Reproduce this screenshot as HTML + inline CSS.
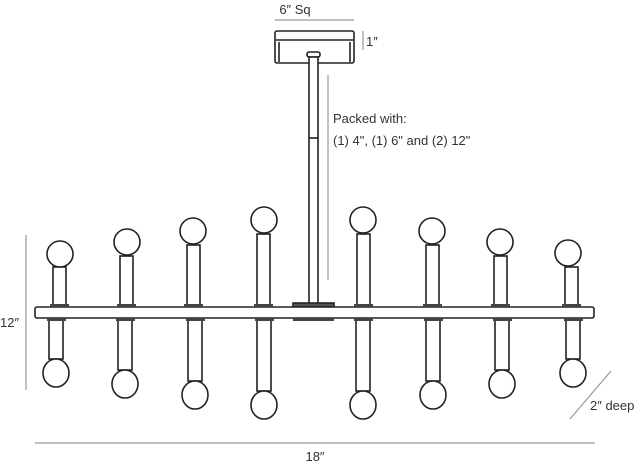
<!DOCTYPE html>
<html><head><meta charset="utf-8"><style>
html,body{margin:0;padding:0;background:#fff;width:640px;height:464px;overflow:hidden}
svg{display:block}
text{font-family:"Liberation Sans",sans-serif;fill:#333}
</style></head><body>
<svg width="640" height="464" viewBox="0 0 640 464" xmlns="http://www.w3.org/2000/svg">
<g stroke="#999" stroke-width="1.2" fill="none">
<line x1="275" y1="20" x2="354" y2="20"/>
<line x1="363" y1="31" x2="363" y2="50"/>
<line x1="328" y1="75" x2="328" y2="280"/>
<line x1="26" y1="235" x2="26" y2="390"/>
<line x1="35" y1="443" x2="595" y2="443"/>
<line x1="570" y1="419" x2="611" y2="371"/>
</g>
<text x="295" y="14" font-size="13" text-anchor="middle">6″ Sq</text>
<text x="366" y="46" font-size="13">1″</text>
<text x="333" y="123" font-size="13">Packed with:</text>
<text x="333" y="145" font-size="13">(1) 4", (1) 6" and (2) 12"</text>
<text x="0" y="327" font-size="13">12″</text>
<text x="315" y="461" font-size="13" text-anchor="middle">18″</text>
<text x="590" y="410" font-size="13">2″ deep</text>
<g stroke="#222" stroke-width="1.6" fill="#fff">
<!-- canopy -->
<rect x="275" y="31" width="79" height="32" rx="2"/>
<line x1="276" y1="40" x2="353" y2="40"/>
<line x1="279" y1="42" x2="279" y2="62"/>
<line x1="350" y1="42" x2="350" y2="62"/>
<rect x="307" y="52" width="13" height="5" rx="2"/>
<!-- rod -->
<rect x="309" y="57" width="9" height="250"/>
<line x1="309" y1="138" x2="318" y2="138"/>
<rect x="293" y="303" width="41" height="4" fill="#555"/>
<!-- upper arms -->
<g id="u">
<rect x="53" y="267" width="13" height="40"/><circle cx="60" cy="254" r="13"/>
<rect x="120" y="256" width="13" height="51"/><circle cx="127" cy="242" r="13"/>
<rect x="187" y="245" width="13" height="62"/><circle cx="193" cy="231" r="13"/>
<rect x="257" y="234" width="13" height="73"/><circle cx="264" cy="220" r="13"/>
<rect x="357" y="234" width="13" height="73"/><circle cx="363" cy="220" r="13"/>
<rect x="426" y="245" width="13" height="62"/><circle cx="432" cy="231" r="13"/>
<rect x="494" y="256" width="13" height="51"/><circle cx="500" cy="242" r="13"/>
<rect x="565" y="267" width="13" height="40"/><circle cx="568" cy="253" r="13"/>
</g>
<!-- lower arms -->
<rect x="49" y="319" width="14" height="40"/><ellipse cx="56" cy="373" rx="13" ry="14"/>
<rect x="118" y="319" width="14" height="51"/><ellipse cx="125" cy="384" rx="13" ry="14"/>
<rect x="188" y="319" width="14" height="62"/><ellipse cx="195" cy="395" rx="13" ry="14"/>
<rect x="257" y="319" width="14" height="72"/><ellipse cx="264" cy="405" rx="13" ry="14"/>
<rect x="356" y="319" width="14" height="72"/><ellipse cx="363" cy="405" rx="13" ry="14"/>
<rect x="426" y="319" width="14" height="62"/><ellipse cx="433" cy="395" rx="13" ry="14"/>
<rect x="495" y="319" width="14" height="51"/><ellipse cx="502" cy="384" rx="13" ry="14"/>
<rect x="566" y="319" width="14" height="40"/><ellipse cx="573" cy="373" rx="13" ry="14"/>
<!-- bar -->
<rect x="35" y="307" width="559" height="11" rx="2"/>
</g>
<g fill="#444">
<rect x="50" y="304" width="19" height="3"/><rect x="117" y="304" width="19" height="3"/><rect x="184" y="304" width="19" height="3"/><rect x="254" y="304" width="19" height="3"/><rect x="354" y="304" width="19" height="3"/><rect x="423" y="304" width="19" height="3"/><rect x="491" y="304" width="19" height="3"/><rect x="562" y="304" width="19" height="3"/>
<rect x="47" y="318" width="19" height="3"/><rect x="116" y="318" width="19" height="3"/><rect x="186" y="318" width="19" height="3"/><rect x="255" y="318" width="19" height="3"/><rect x="293" y="318" width="41" height="3"/><rect x="354" y="318" width="19" height="3"/><rect x="424" y="318" width="19" height="3"/><rect x="493" y="318" width="19" height="3"/><rect x="564" y="318" width="19" height="3"/>
</g>
</svg>
</body></html>
